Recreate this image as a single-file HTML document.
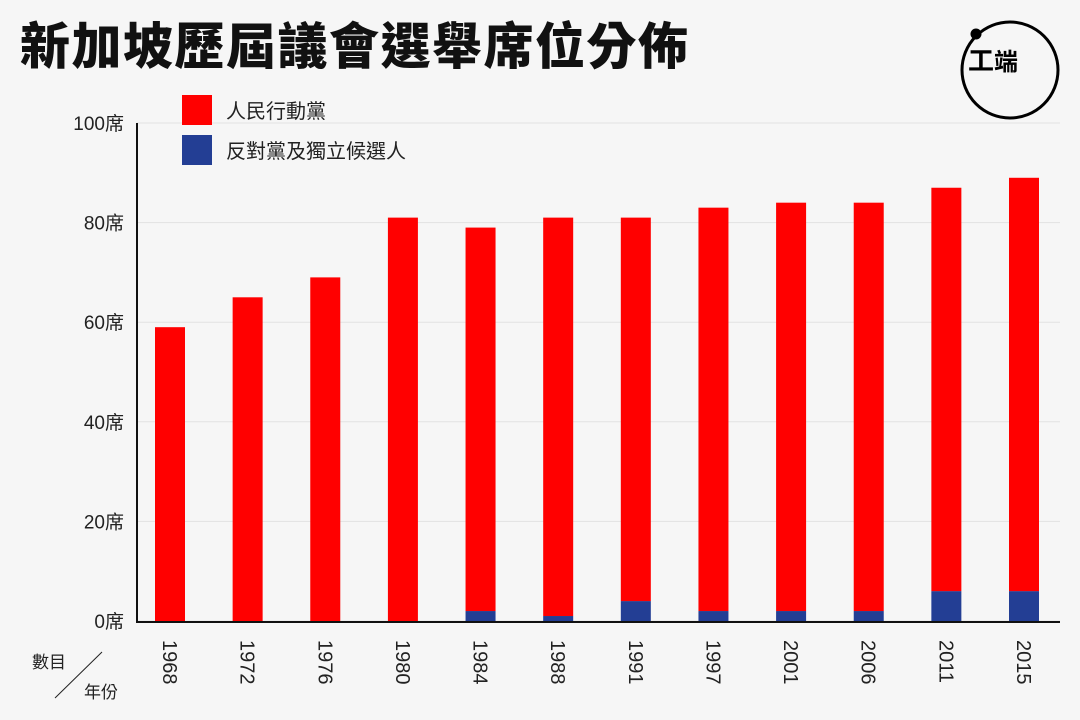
<!DOCTYPE html>
<html><head><meta charset="utf-8"><style>
body{margin:0;background:#f6f6f6;}
svg{display:block;font-family:"Liberation Sans","Noto Sans CJK TC",sans-serif;}
</style></head><body>
<svg id="chart" width="1080" height="720" viewBox="0 0 1080 720">
<rect width="1080" height="720" fill="#f6f6f6"/>
<text x="20" y="64" font-size="50" font-weight="900" letter-spacing="1.5" fill="#111" font-family="'Noto Sans CJK TC',sans-serif">新加坡歷屆議會選舉席位分佈</text>
<g>
<circle cx="1010" cy="70" r="48" fill="none" stroke="#000" stroke-width="3"/>
<circle cx="976" cy="34" r="5.5" fill="#000"/>
<text x="968" y="70" font-size="26" font-weight="bold" fill="#000" font-family="'Noto Sans CJK TC',sans-serif">工</text>
<text x="994" y="70" font-size="24" font-weight="bold" fill="#000" font-family="'Noto Sans CJK TC',sans-serif">端</text>
</g>
<g id="grid"></g>
<g id="bars"></g>
<g id="yaxis"></g>
<g id="xaxis"></g>
<g>
<g><rect x="182" y="95" width="30" height="30" fill="#ff0000"/><text x="226" y="118" font-size="20" fill="#222">人民行動黨</text></g>
<g><rect x="182" y="135" width="30" height="30" fill="#233e94"/><text x="226" y="158" font-size="20" fill="#222">反對黨及獨立候選人</text></g>
</g>
<g>
<text x="32" y="668" font-size="17" fill="#222">數目</text>
<line x1="55" y1="698" x2="102" y2="652" stroke="#222" stroke-width="1"/>
<text x="84" y="698" font-size="17" fill="#222">年份</text>
</g>
</svg>
<script>
const years=["1968","1972","1976","1980","1984","1988","1991","1997","2001","2006","2011","2015"];
const papSeats=[59,65,69,81,77,80,77,81,82,82,81,83];
const oppSeats=[0,0,0,0,2,1,4,2,2,2,6,6];
const yTicks=[0,20,40,60,80,100];
const NS="http://www.w3.org/2000/svg";
const y0=621,y100=123;
function yS(v){return y0-(v/100)*(y0-y100);}
function xS(i){return 170+i*(1024-170)/(years.length-1);}
function mk(tag,attrs,parent,txt){const e=document.createElementNS(NS,tag);for(const k in attrs)e.setAttribute(k,attrs[k]);if(txt!==undefined)e.textContent=txt;parent.appendChild(e);return e;}
const grid=document.getElementById('grid'),bars=document.getElementById('bars'),ya=document.getElementById('yaxis'),xa=document.getElementById('xaxis');
yTicks.forEach(t=>{
 const l=mk('line',{x1:137,x2:1060,y1:yS(t),y2:yS(t),stroke:'#e2e2e2','stroke-width':1},grid);
 
 
 const tx=mk('text',{x:124,y:yS(t)+7,'text-anchor':'end','font-size':19,fill:'#222'},ya,t+'席');
 
 
});
years.forEach((yr,i)=>{
 const x=xS(i)-15;
 const b=mk('rect',{x:x,y:yS(oppSeats[i]),width:30,height:y0-yS(oppSeats[i]),fill:'#233e94'},bars);
 
 
 const r=mk('rect',{x:x,y:yS(oppSeats[i]+papSeats[i]),width:30,height:yS(oppSeats[i])-yS(oppSeats[i]+papSeats[i]),fill:'#ff0000'},bars);
 
 
 const t=mk('text',{x:0,y:0,'font-size':20,fill:'#222',transform:`translate(${xS(i)-7},640) rotate(90)`},xa,yr);
 
 
});
const ax=mk('line',{x1:137,x2:137,y1:123,y2:622,stroke:'#111','stroke-width':2},ya);


const bx=mk('line',{x1:136,x2:1060,y1:622,y2:622,stroke:'#111','stroke-width':2},xa);


</script>
</body></html>
